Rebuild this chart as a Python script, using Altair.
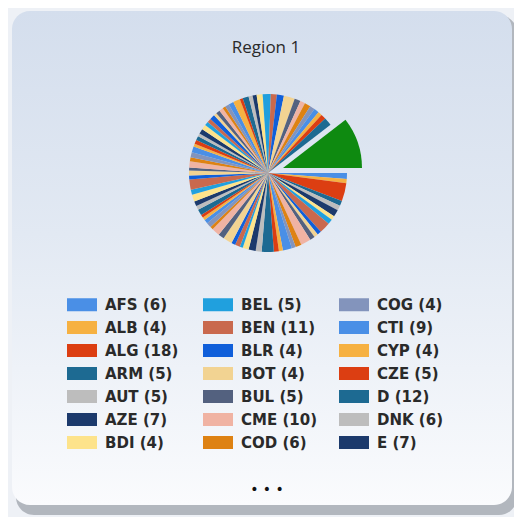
import math
import altair as alt
import pandas as pd

# ---------------- data ----------------
codes = [
    "AFS", "ALB", "ALG", "ARM", "AUT", "AZE", "BDI",
    "BEL", "BEN", "BLR", "BOT", "BUL", "CME", "COD",
    "COG", "CTI", "CYP", "CZE", "D", "DNK", "E",
    "EGY", "ERI", "EST", "ETH", "F", "FIN", "G", "GAB", "GEO", "GHA",
    "GMB", "GNB", "GRC", "GUI", "HNG", "HOL", "HRV", "I", "IRL", "IRQ",
    "ISL", "ISR", "JOR", "KAZ", "KEN", "KGZ", "KWT", "LBN", "LBR", "LBY",
    "LTU", "LUX", "LVA", "MDA", "MDG", "MKD", "MLI", "MLT", "MNE", "MOZ",
    "MRC", "MTN", "NGR", "NIG", "NMB", "NOR", "POL", "POR", "ROU", "RUS",
    "S", "SEN", "SRB", "SUI", "SVK", "SVN", "TUN", "TUR", "UKR",
]
counts = [
    6, 4, 18, 5, 5, 7, 4,
    5, 11, 4, 4, 5, 10, 6,
    4, 9, 4, 5, 12, 6, 7,
    6, 3, 5, 4, 9, 6, 8, 3, 5, 4,
    3, 3, 6, 4, 5, 7, 5, 10, 4, 5,
    3, 6, 4, 5, 6, 3, 4, 4, 3, 5,
    5, 4, 4, 5, 3, 4, 4, 3, 4, 5,
    7, 3, 6, 4, 4, 6, 8, 6, 7, 11,
    6, 5, 6, 5, 5, 4, 5, 8, 51,
]
palette = [
    "#4a8fe6", "#f6b142", "#dc3e12", "#1d6a92", "#bdbdbd",
    "#1c3a6c", "#fde38b", "#20a0de", "#c9694e", "#105fda",
    "#f2d392", "#53617f", "#f0b3a3", "#de8213", "#8394bc",
]
highlight_code = "UKR"
highlight_color = "#0e8a10"
title_text = "Region 1"
legend_shown = 21

# ---------------- table ----------------
labels = [f"{c} ({n})" for c, n in zip(codes, counts)]
colors = [highlight_color if c == highlight_code else palette[i % len(palette)]
          for i, c in enumerate(codes)]
df = pd.DataFrame({"code": codes, "count": counts, "label": labels,
                   "idx": list(range(len(codes)))})

legend_values = labels[:legend_shown]

W, H = 506, 509
one = pd.DataFrame({"k": [0]})

card_fill = alt.LinearGradient(
    gradient="linear", x1=0, x2=0, y1=0, y2=1,
    stops=[alt.GradientStop(color="#d4deed", offset=0),
           alt.GradientStop(color="#e2e9f3", offset=0.45),
           alt.GradientStop(color="#fafbfd", offset=1)])

shadow = alt.Chart(one).mark_rect(cornerRadius=18, fill="#9ea3ab", opacity=0.75).encode(
    x=alt.value(8), x2=alt.value(509), y=alt.value(7), y2=alt.value(507))
card = alt.Chart(one).mark_rect(cornerRadius=18, fill=card_fill).encode(
    x=alt.value(4), x2=alt.value(504), y=alt.value(3), y2=alt.value(497))

title = alt.Chart(one).mark_text(
    text=title_text, font="Open Sans", fontSize=17, color="#2a2a2a",
    baseline="middle", align="center").encode(x=alt.value(258), y=alt.value(40))

legend = alt.Legend(
    orient="none", legendX=58, legendY=289, columns=3, values=legend_values,
    title=None, symbolType="M-1,-1H3.615V1H-1Z", symbolSize=169,
    symbolStrokeWidth=0, symbolOpacity=1, gridAlign="all",
    labelFont="DejaVu Sans", labelFontSize=15, labelFontWeight="bold",
    labelColor="#2a2a2a", labelOffset=24, rowPadding=7, columnPadding=21,
    labelLimit=200)

color_enc = alt.Color("label:N", scale=alt.Scale(domain=labels, range=colors),
                      legend=legend)
theta_enc = alt.Theta("count:Q", stack=True,
                      scale=alt.Scale(range=[math.pi / 2, math.pi / 2 + 2 * math.pi]))
order_enc = alt.Order("idx:Q")

pie = alt.Chart(df).mark_arc(outerRadius=79).encode(
    theta=theta_enc, color=color_enc, order=order_enc,
    x=alt.value(260), y=alt.value(165),
    opacity=alt.condition(f"datum.code != '{highlight_code}'", alt.value(1), alt.value(0)))

exploded = alt.Chart(df).mark_arc(outerRadius=79).encode(
    theta=theta_enc, color=color_enc, order=order_enc,
    x=alt.value(275), y=alt.value(160),
    opacity=alt.condition(f"datum.code == '{highlight_code}'", alt.value(1), alt.value(0)))

dots = alt.Chart(one).mark_text(
    text="•  •  •", font="DejaVu Sans", fontSize=14, color="#111111",
    baseline="middle", align="center").encode(x=alt.value(259), y=alt.value(482))

chart = alt.layer(shadow, card, title, pie, exploded, dots).properties(
    width=W, height=H, background="#eef1f6",
    autosize=alt.AutoSizeParams(type="none"), padding=0,
).configure_view(stroke=None)

chart.save("out.html", embed_options={"renderer": "svg", "actions": False})
